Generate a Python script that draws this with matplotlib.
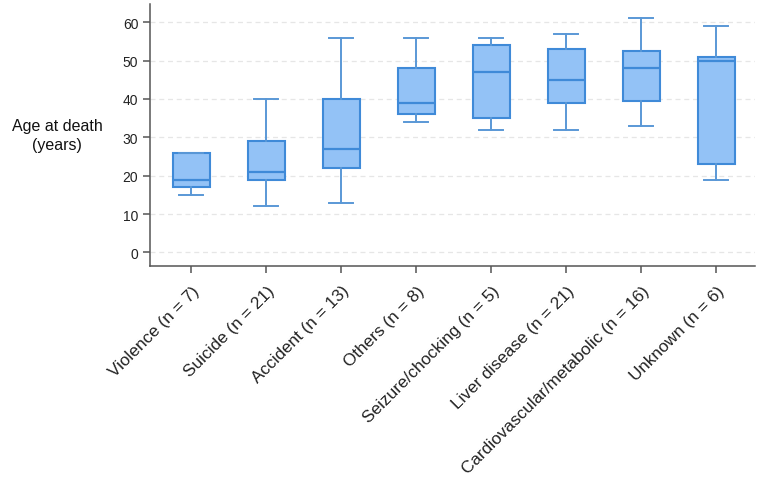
import matplotlib
matplotlib.use('Agg')
import matplotlib.pyplot as plt
from matplotlib.transforms import ScaledTranslation

plt.rcParams['font.family'] = ['Liberation Sans', 'DejaVu Sans']

categories = ['Violence (n = 7)', 'Suicide (n = 21)', 'Accident (n = 13)', 'Others (n = 8)',
              'Seizure/chocking (n = 5)', 'Liver disease (n = 21)',
              'Cardiovascular/metabolic (n = 16)', 'Unknown (n = 6)']
whisker_low = [15, 12, 13, 34, 32, 32, 33, 19]
q1 = [17, 19, 22, 36, 35, 39, 39.5, 23]
median = [19, 21, 27, 39, 47, 45, 48, 50]
q3 = [26, 29, 40, 48, 54, 53, 52.5, 51]
whisker_high = [26, 40, 56, 56, 56, 57, 61, 59]

fill_color = '#93c2f6'
edge_color = '#3f8ad8'
whisk_color = '#5a98d6'

stats = []
for i, name in enumerate(categories):
    stats.append({'label': name, 'whislo': whisker_low[i], 'q1': q1[i], 'med': median[i],
                  'q3': q3[i], 'whishi': whisker_high[i], 'fliers': []})

fig = plt.figure(figsize=(7.62, 4.85), dpi=100)
ax = fig.add_axes([0.197, 0.449, 0.794, 0.541])

parts = ax.bxp(stats, positions=range(len(categories)), widths=0.49, patch_artist=True,
               showfliers=False,
               boxprops=dict(facecolor=fill_color, edgecolor=edge_color, linewidth=1.5),
               medianprops=dict(color=edge_color, linewidth=1.6),
               whiskerprops=dict(color=whisk_color, linewidth=1.4),
               capprops=dict(color=whisk_color, linewidth=1.4))
# narrower caps
for cap in parts['caps']:
    xd = cap.get_xdata()
    c = (xd[0] + xd[1]) / 2
    cap.set_xdata([c - 0.16, c + 0.16])

ax.set_xlim(-0.55, 7.52)
ax.set_ylim(-3.6, 64.8)
ax.set_yticks(range(0, 61, 10))
ax.yaxis.grid(True, linestyle=(0, (4, 3)), color='#e6e6e6', linewidth=0.9)
ax.set_axisbelow(True)

for s in ['top', 'right']:
    ax.spines[s].set_visible(False)
for s in ['left', 'bottom']:
    ax.spines[s].set_color('#555555')
    ax.spines[s].set_linewidth(1.1)
ax.tick_params(axis='both', colors='#555555', length=5, width=1.1, labelcolor='#222222')
ax.tick_params(axis='y', labelsize=10)
ax.set_xticks(range(len(categories)))
ax.set_xticklabels(categories, rotation=45, ha='right', va='center', rotation_mode='anchor',
                   fontsize=12.3)
offset = ScaledTranslation(6 / 100, -10 / 100, fig.dpi_scale_trans)
for lbl in ax.get_xticklabels():
    lbl.set_transform(lbl.get_transform() + offset)

fig.text(0.075, 0.72, 'Age at death\n(years)', ha='center', va='center', fontsize=11.5,
         linespacing=1.35, color='#111111')

fig.savefig('out.png', dpi=100, facecolor='white')
